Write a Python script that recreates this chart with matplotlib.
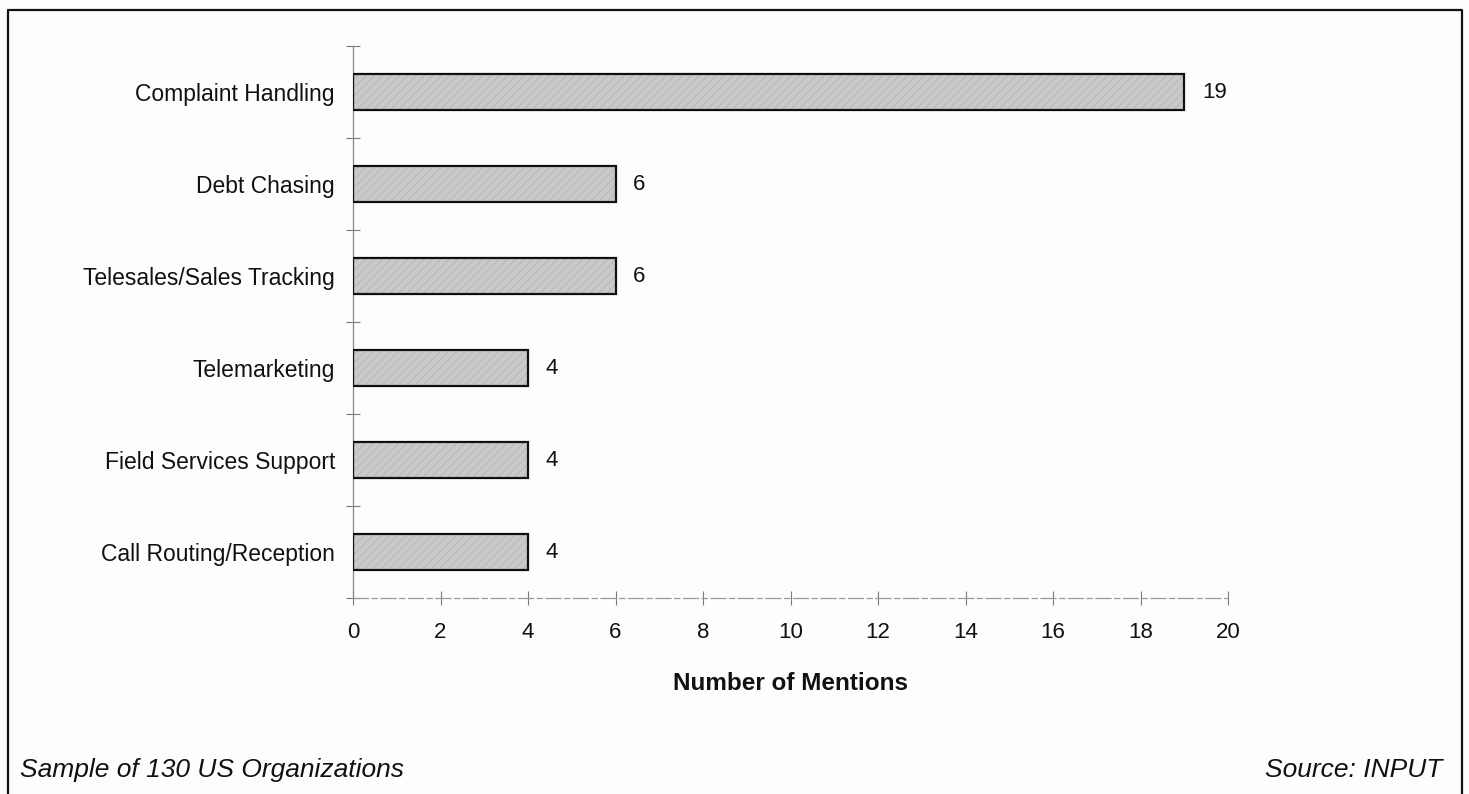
import matplotlib
matplotlib.use("Agg")
import matplotlib.pyplot as plt
from matplotlib.lines import Line2D

plt.rcParams['font.family'] = ['Liberation Sans', 'DejaVu Sans']

categories = ["Complaint Handling", "Debt Chasing", "Telesales/Sales Tracking",
              "Telemarketing", "Field Services Support", "Call Routing/Reception"]
mentions = [19, 6, 6, 4, 4, 4]
x_ticks = [0, 2, 4, 6, 8, 10, 12, 14, 16, 18, 20]

W, H = 1469, 794
fig = plt.figure(figsize=(W / 100, H / 100), dpi=100)
fig.patch.set_facecolor('#fdfdfd')

ax = fig.add_axes([353 / W, 1 - 598 / H, (1228 - 353) / W, (598 - 46) / H])
ax.set_facecolor('none')

n = len(categories)
ypos = list(range(n))[::-1]  # first category at the top

# textured fill, then a crisp outline on top
plt.rcParams['hatch.linewidth'] = 0.6
ax.barh(ypos, mentions, height=0.4, color='#c9c9c9', edgecolor='#b3b3b3',
        hatch='////', linewidth=0, zorder=2)
ax.barh(ypos, mentions, height=0.4, fill=False, edgecolor='#111111',
        linewidth=1.6, zorder=3)

for y, v in zip(ypos, mentions):
    ax.text(v + 0.4, y, str(v), va='center', ha='left', fontsize=16, color='#111111')

ax.set_xlim(0, 20)
ax.set_ylim(-0.5, n - 0.5)

ax.set_xticks(x_ticks)
ax.set_xticklabels([str(t) for t in x_ticks], fontsize=16, color='#111111')
ax.tick_params(axis='x', direction='inout', length=10, width=0.8, color='#7a7a7a', pad=12)

ax.set_yticks(ypos)
ax.set_yticklabels(categories, fontsize=16.5, color='#111111')
ax.tick_params(axis='y', which='major', length=0, pad=13)
ax.set_yticks([i - 0.5 for i in range(n + 1)], minor=True)
ax.tick_params(axis='y', which='minor', direction='inout', length=10, width=0.8, color='#7a7a7a')

for s in ('top', 'right'):
    ax.spines[s].set_visible(False)
ax.spines['left'].set_color('#8a8a8a')
ax.spines['left'].set_linewidth(0.9)
ax.spines['bottom'].set_color('#9a9a9a')
ax.spines['bottom'].set_linewidth(0.9)
ax.spines['bottom'].set_linestyle((0, (12, 3, 4, 3)))

fig.text((353 + 1228) / 2 / W, 1 - 683 / H, "Number of Mentions", ha='center', va='center',
         fontsize=17.5, fontweight='bold', color='#111111')

fig.text(20 / W, 1 - 777 / H, "Sample of 130 US Organizations", ha='left', va='baseline',
         fontsize=19, fontstyle='italic', color='#111111')
fig.text(1442 / W, 1 - 777 / H, "Source: INPUT", ha='right', va='baseline',
         fontsize=19, fontstyle='italic', color='#111111')

# open-bottomed frame around the chart
xl, xr, yt = 8 / W, 1462 / W, 1 - 10 / H
fig.add_artist(Line2D([xl, xl, xr, xr], [0, yt, yt, 0], transform=fig.transFigure,
                      color='#111111', linewidth=1.6))

fig.savefig("out.png", dpi=100, facecolor=fig.get_facecolor())
